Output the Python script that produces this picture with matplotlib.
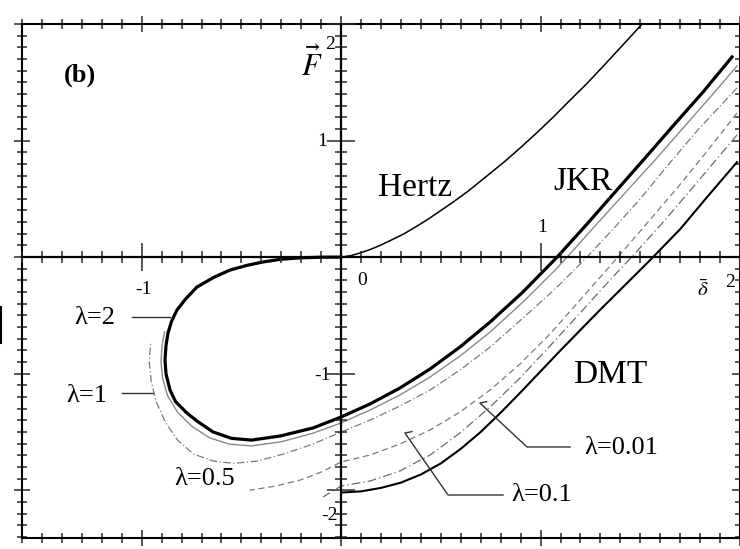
import matplotlib
matplotlib.use("Agg")
import matplotlib.pyplot as plt
from matplotlib.ticker import MultipleLocator, NullFormatter
from matplotlib.lines import Line2D

plt.rcParams["font.family"] = ["Liberation Serif", "DejaVu Serif"]
plt.rcParams["mathtext.fontset"] = "stix"

# ---- curve data: normalised load F versus normalised penetration delta ----
hertz_x = [0.0, 0.05, 0.1, 0.15, 0.2, 0.25, 0.31, 0.37, 0.44, 0.5, 0.56, 0.64, 0.73,
           0.82, 0.9, 0.98, 1.06, 1.15, 1.23, 1.31, 1.41, 1.52]
hertz_y = [0.0, 0.013, 0.038, 0.068, 0.104, 0.145, 0.195, 0.255, 0.33, 0.40, 0.47, 0.57,
           0.695, 0.82, 0.94, 1.065, 1.195, 1.35, 1.485, 1.63, 1.815, 2.02]

jkr_x = [1.96, 1.815, 1.664, 1.524, 1.383, 1.233, 1.083, 0.912, 0.747, 0.596, 0.446,
         0.295, 0.145, 0.0, -0.141, -0.306, -0.45, -0.55, -0.642, -0.72, -0.773,
         -0.83, -0.858, -0.878, -0.883, -0.878, -0.868, -0.85, -0.823, -0.78, -0.723,
         -0.64, -0.557, -0.47, -0.392, -0.30, -0.2, -0.1, 0.0]
jkr_y = [1.717, 1.417, 1.125, 0.85, 0.576, 0.284, 0.0, -0.299, -0.557, -0.771, -0.96,
         -1.123, -1.26, -1.372, -1.466, -1.535, -1.57, -1.555, -1.50, -1.41, -1.338,
         -1.24, -1.14, -1.0, -0.883, -0.76, -0.651, -0.55, -0.454, -0.36, -0.257,
         -0.175, -0.111, -0.07, -0.042, -0.018, -0.006, -0.001, 0.0]

lam2_x = [1.985, 1.86, 1.719, 1.574, 1.423, 1.273, 1.133, 1.083, 0.912, 0.747, 0.596,
          0.446, 0.295, 0.145, 0.0, -0.14, -0.30, -0.45, -0.56, -0.66, -0.75, -0.82,
          -0.87, -0.895, -0.903, -0.898, -0.885]
lam2_y = [1.64, 1.391, 1.116, 0.833, 0.55, 0.267, 0.0, -0.094, -0.385, -0.643, -0.849,
          -1.029, -1.183, -1.312, -1.423, -1.51, -1.585, -1.62, -1.605, -1.55, -1.45,
          -1.33, -1.19, -1.04, -0.90, -0.76, -0.64]

lam1_x = [1.985, 1.784, 1.639, 1.499, 1.373, 1.233, 1.083, 0.912, 0.747, 0.596, 0.446,
          0.295, 0.145, 0.0, -0.15, -0.29, -0.42, -0.54, -0.64, -0.74, -0.82, -0.88,
          -0.925, -0.952, -0.962, -0.955]
lam1_y = [1.451, 1.082, 0.79, 0.498, 0.258, 0.0, -0.257, -0.523, -0.772, -0.969, -1.14,
          -1.278, -1.398, -1.501, -1.61, -1.69, -1.75, -1.77, -1.75, -1.69, -1.57, -1.42,
          -1.25, -1.07, -0.90, -0.74]

lam05_x = [1.985, 1.84, 1.689, 1.539, 1.388, 1.198, 1.047, 0.897, 0.747, 0.596, 0.446,
           0.295, 0.145, 0.0, -0.1, -0.2, -0.33, -0.457]
lam05_y = [1.236, 0.919, 0.601, 0.301, 0.0, -0.368, -0.66, -0.917, -1.14, -1.329, -1.483,
           -1.604, -1.698, -1.758, -1.845, -1.91, -1.965, -2.0]

lam01_x = [1.985, 1.774, 1.624, 1.489, 1.348, 1.198, 1.047, 0.897, 0.747, 0.596, 0.446,
           0.295, 0.145, 0.0, -0.091]
lam01_y = [1.048, 0.619, 0.318, 0.061, -0.197, -0.48, -0.763, -1.037, -1.286, -1.509,
           -1.698, -1.835, -1.921, -1.964, -2.058]

dmt_x = [0.0, 0.1, 0.2, 0.3, 0.4, 0.5, 0.6, 0.7, 0.8, 0.9, 1.0, 1.1, 1.2, 1.3, 1.4,
         1.5, 1.564, 1.7, 1.835, 1.985]
dmt_y = [-2.02, -2.01, -1.98, -1.935, -1.865, -1.77, -1.645, -1.5, -1.335, -1.16, -0.98,
         -0.80, -0.625, -0.45, -0.28, -0.11, 0.0, 0.24, 0.515, 0.815]

# ---- figure and framed axes ----
fig = plt.figure(figsize=(7.4, 5.49), dpi=100)
rect = [22 / 740, 11 / 549, 718 / 740, 514 / 549]
ax = fig.add_axes(rect)
ax.set_xlim(-1.6, 2.0)
ax.set_ylim(-2.41, 2.0)
for s in ax.spines.values():
    s.set_linewidth(1.5)
for axis in (ax.xaxis, ax.yaxis):
    axis.set_major_locator(MultipleLocator(1))
    axis.set_minor_locator(MultipleLocator(0.1))
    axis.set_major_formatter(NullFormatter())
ax.tick_params(which="both", direction="inout", top=True, right=True,
               bottom=True, left=True, width=1.1, color="#2a2a2a")
ax.tick_params(which="major", length=12)
ax.tick_params(which="minor", length=7)

# axes drawn through the origin
ax0 = fig.add_axes(rect, sharex=ax, sharey=ax)
ax0.patch.set_visible(False)
ax0.spines["left"].set_position(("data", 0))
ax0.spines["bottom"].set_position(("data", 0))
ax0.spines["top"].set_visible(False)
ax0.spines["right"].set_visible(False)
ax0.spines["left"].set_linewidth(1.6)
ax0.spines["bottom"].set_linewidth(1.6)
ax0.tick_params(which="both", direction="inout", labelbottom=False, labelleft=False,
                width=1.1, color="#2a2a2a")
ax0.tick_params(which="major", length=20)
ax0.tick_params(which="minor", length=8)

# ---- curves ----
ax.plot(hertz_x, hertz_y, color="black", lw=1.1, solid_joinstyle="round")
ax.plot(lam2_x, lam2_y, color="#8a8a8a", lw=1.0)
ax.plot(lam1_x, lam1_y, color="#7a7a7a", lw=0.9, dashes=(6, 2, 1, 2))
ax.plot(lam05_x, lam05_y, color="#7a7a7a", lw=0.9, dashes=(5, 3))
ax.plot(lam01_x, lam01_y, color="#6a6a6a", lw=0.9, dashes=(7, 2.5, 1, 2.5))
ax.plot(dmt_x, dmt_y, color="black", lw=1.5, solid_joinstyle="round")
ax.plot(jkr_x, jkr_y, color="black", lw=2.3, solid_joinstyle="round")

# ---- labels ----
serif = ["Liberation Serif", "DejaVu Serif"]
big = dict(fontsize=24, family=serif, ha="center", va="center")
ax.text(0.37, 0.593, "Hertz", **big)
ax.text(1.213, 0.644, "JKR", **big)
ax.text(1.348, -1.012, "DMT", **big)
ax.text(-1.309, 1.562, "(b)", fontsize=19, fontweight="bold", family=serif,
        ha="center", va="center")

lab = dict(fontsize=19, family=serif, ha="center", va="center")
ax.text(-1.234, -0.522, "λ=2", **lab)
ax.text(-1.274, -1.192, "λ=1", **lab)
ax.text(-0.687, -1.904, "λ=0.5", **lab)
ax.text(1.403, -1.638, "λ=0.01", **lab)
ax.text(1.007, -2.041, "λ=0.1", **lab)

lead = dict(color="#333333", lw=1.0)
ax.plot([-1.048, -0.858], [-0.514, -0.514], **lead)
ax.plot([-1.099, -0.943], [-1.166, -1.166], **lead)
ax.plot([1.148, 0.932, 0.696, 0.73], [-1.629, -1.629, -1.252, -1.24], **lead)
ax.plot([0.812, 0.536, 0.32, 0.355], [-2.041, -2.041, -1.509, -1.497], **lead)

# tick numbers
tk = dict(fontsize=14, family=serif, ha="center", va="center")
ax.text(-0.056, 1.82, "2", **tk)
ax.text(-0.096, 0.988, "1", **tk)
ax.text(0.105, -0.2, "0", **tk)
ax.text(-0.091, -1.012, "-1", **tk)
ax.text(-0.056, -2.213, "-2", **tk)
ax.text(-0.993, -0.282, "-1", **tk)
ax.text(1.007, 0.25, "1", **tk)
ax.text(1.95, -0.222, "2", **tk)
ax.text(1.815, -0.29, r"$\bar{\delta}$", fontsize=15, ha="center", va="center")
ax.text(-0.146, 1.648, r"$\vec{F}$", fontsize=22, ha="center", va="center")

# small mark at the left margin
fig.add_artist(Line2D([1 / 740, 1 / 740], [1 - 307 / 549, 1 - 343 / 549],
                      color="black", lw=1.5, transform=fig.transFigure))

fig.savefig("out.png", dpi=100)
